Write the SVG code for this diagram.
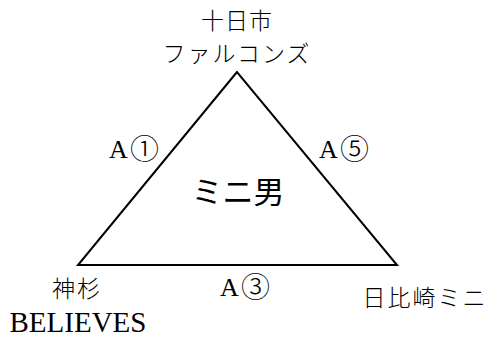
<svg xmlns="http://www.w3.org/2000/svg" width="490" height="338" viewBox="0 0 490 338">
<style>
.jp{font-family:"Noto Sans CJK JP","Noto Sans CJK SC",sans-serif;font-size:23px;fill:#000;font-weight:300}
.big{font-size:31px;font-weight:400}
.lat{font-family:"Liberation Serif","Noto Sans CJK JP",serif;font-size:26px;fill:#000}
.brand{font-size:29px}
.circ{font-family:"Noto Sans CJK JP",sans-serif;font-weight:300;font-size:29px}
.edge{fill:none;stroke:#000;stroke-width:2;stroke-linejoin:miter}
</style>
<rect width="490" height="338" fill="#fff"/>
<g id="connectors">
<path class="edge" d="M237,72 L78,265 L397,265 Z"/>
</g>
<g id="node-tokamachi">
<text class="jp" x="237" y="29" text-anchor="middle" letter-spacing="1">十日市</text>
<text class="jp" x="237" y="62" text-anchor="middle" letter-spacing="2">ファルコンズ</text>
</g>
<g id="node-kamisugi">
<text class="jp" x="77" y="297" text-anchor="middle" letter-spacing="2">神杉</text>
<text class="lat brand" x="78" y="332" text-anchor="middle">BELIEVES</text>
</g>
<g id="node-hibisaki">
<text class="jp" x="425" y="306" text-anchor="middle" letter-spacing="2">日比崎ミニ</text>
</g>
<g id="node-center">
<text class="jp big" x="238" y="203" text-anchor="middle">ミニ男</text>
</g>
<g id="labels">
<text class="lat" x="109" y="158">A<tspan class="circ" x="130" y="160">①</tspan></text>
<text class="lat" x="319" y="158">A<tspan class="circ" x="340" y="160">⑤</tspan></text>
<text class="lat" x="220" y="296">A<tspan class="circ" x="241" y="298">③</tspan></text>
</g>
</svg>
